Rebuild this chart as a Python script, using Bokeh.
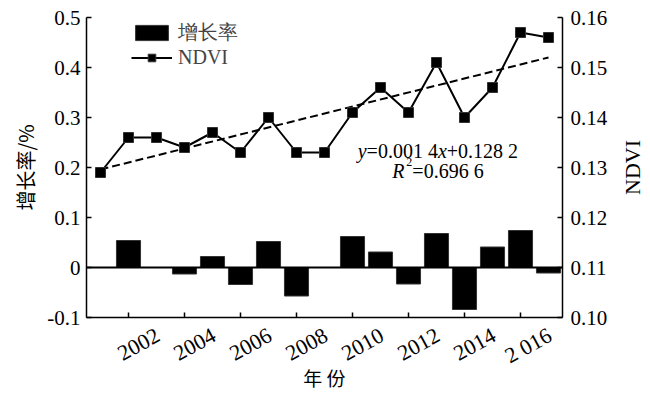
import math
from bokeh.plotting import figure
from bokeh.layouts import row
from bokeh.models import (Range1d, LinearAxis, FixedTicker, Span, Legend, LegendItem,
                          Label)
from bokeh.embed import file_html
from bokeh.resources import INLINE

# ---------------- data ----------------
years = [2001, 2002, 2003, 2004, 2005, 2006, 2007, 2008, 2009,
         2010, 2011, 2012, 2013, 2014, 2015, 2016, 2017]
ndvi = [0.129, 0.136, 0.136, 0.134, 0.137, 0.133, 0.140, 0.133, 0.133,
        0.141, 0.146, 0.141, 0.151, 0.140, 0.146, 0.157, 0.156]

growth_years = [2002, 2003, 2004, 2005, 2006, 2007, 2008, 2009,
                2010, 2011, 2012, 2013, 2014, 2015, 2016, 2017]
growth = [0.054, 0.0, -0.013, 0.022, -0.034, 0.052, -0.057, 0.0,
          0.062, 0.031, -0.033, 0.068, -0.084, 0.041, 0.074, -0.011]

trend_slope = 0.0014
trend_intercept = 0.1282
trend_index = [1, 17]
trend_years = [2001, 2017]

left_ticks = [-0.1, 0.0, 0.1, 0.2, 0.3, 0.4, 0.5]
left_labels = ["-0.1", "0", "0.1", "0.2", "0.3", "0.4", "0.5"]
right_ticks = [0.10, 0.11, 0.12, 0.13, 0.14, 0.15, 0.16]
right_labels = ["0.10", "0.11", "0.12", "0.13", "0.14", "0.15", "0.16"]
year_ticks = [2002, 2004, 2006, 2008, 2010, 2012, 2014, 2016]
year_labels = ["2002", "2004", "2006", "2008", "2010", "2012", "2014", "2 016"]

SERIF = "Liberation Serif"
CJK = "Noto Sans CJK SC"

X0, X1 = 2000.5, 2017.5
LABEL_SHIFT = 1.05   # horizontal shift (in years) of the slanted year labels

# ---------------- figure ----------------
p = figure(width=614, height=394,
           x_range=Range1d(X0, X1), y_range=Range1d(-0.1, 0.5),
           output_backend="svg", toolbar_location=None,
           min_border_left=86, min_border_right=52,
           min_border_top=17, min_border_bottom=76)
p.extra_y_ranges = {"ndvi": Range1d(0.10, 0.16)}
p.extra_x_ranges = {"lbl": Range1d(X0 - LABEL_SHIFT, X1 - LABEL_SHIFT)}
p.grid.visible = False
p.outline_line_color = None
p.background_fill_color = "white"
p.border_fill_color = "white"

def style_axis(ax, standoff):
    ax.axis_line_width = 1.5
    ax.axis_line_color = "black"
    ax.major_tick_line_width = 1.5
    ax.major_tick_in = 5
    ax.major_tick_out = 0
    ax.minor_tick_line_color = None
    ax.major_label_text_font = SERIF
    ax.major_label_text_font_size = "21px"
    ax.major_label_text_color = "black"
    ax.major_label_standoff = standoff
    ax.axis_label_text_font_style = "normal"
    ax.axis_label_text_color = "black"

# left axis
ly = p.yaxis[0]
ly.ticker = FixedTicker(ticks=left_ticks)
ly.major_label_overrides = {t: l for t, l in zip(left_ticks, left_labels)}
style_axis(ly, 6)
ly.axis_label = "增长率/%"
ly.axis_label_text_font = CJK
ly.axis_label_text_font_size = "20px"
ly.axis_label_standoff = 4

# bottom axis: line + inward ticks only
bx = p.xaxis[0]
bx.ticker = FixedTicker(ticks=year_ticks)
style_axis(bx, 0)
bx.major_label_overrides = {t: "" for t in year_ticks}
bx.major_label_text_color = None
bx.major_label_text_font_size = "1px"

# second bottom axis: slanted year labels + title
lx = LinearAxis(x_range_name="lbl", ticker=FixedTicker(ticks=year_ticks))
style_axis(lx, 16)
lx.major_label_text_font_size = "22px"
lx.axis_line_color = None
lx.major_tick_line_color = None
lx.major_label_overrides = {t: l for t, l in zip(year_ticks, year_labels)}
lx.major_label_orientation = 0.5
lx.axis_label = "年 份"
lx.axis_label_text_font = CJK
lx.axis_label_text_font_size = "19px"
lx.axis_label_standoff = -18
p.add_layout(lx, "below")

# right axis: line, ticks and tick labels
ry = LinearAxis(y_range_name="ndvi", ticker=FixedTicker(ticks=right_ticks))
ry.major_label_overrides = {t: l for t, l in zip(right_ticks, right_labels)}
style_axis(ry, 8)
p.add_layout(ry, "right")

# ---------------- glyphs ----------------
bars = p.vbar(x=growth_years, top=growth, bottom=0, width=0.86,
              fill_color="black", line_color="#333333", line_width=1)

p.add_layout(Span(location=0, dimension="width", line_color="black", line_width=2))

trend_vals = [trend_intercept + trend_slope * i for i in trend_index]
p.line(x=trend_years, y=trend_vals, y_range_name="ndvi",
       line_color="black", line_width=2, line_dash="8 4")

ln = p.line(x=years, y=ndvi, y_range_name="ndvi", line_color="black", line_width=2)
pts = p.scatter(x=years, y=ndvi, y_range_name="ndvi", marker="square", size=10,
                fill_color="black", line_color="#333333", line_width=1)

# ---------------- legend ----------------
legend = Legend(items=[LegendItem(label="增长率", renderers=[bars]),
                       LegendItem(label="NDVI", renderers=[ln, pts])],
                location=(45, 248), padding=0, margin=0, spacing=-5,
                glyph_width=41, glyph_height=19, label_standoff=6, label_height=18,
                label_text_font=SERIF, label_text_font_size="20px",
                background_fill_alpha=0, border_line_color=None)
p.add_layout(legend)

# ---------------- equation annotation ----------------
fs = 20
cx = 2013.05
y1, y2 = 0.234, 0.194
line1 = [("y", "italic", 0.444), ("=0.001 4", "normal", 3.564),
         ("x", "italic", 0.444), ("+0.128 2", "normal", 3.564)]
w1 = sum(w for _, _, w in line1) * fs
off = -w1 / 2
for txt, style, w in line1:
    p.add_layout(Label(x=cx, y=y1, x_offset=off, text=txt, text_font=SERIF,
                       text_font_style=style, text_font_size=f"{fs}px",
                       text_align="left", text_baseline="alphabetic", text_color="black"))
    off += w * fs

w2 = (0.611 + 3.564) * fs + 8
off = -w2 / 2
p.add_layout(Label(x=cx, y=y2, x_offset=off, text="R", text_font=SERIF,
                   text_font_style="italic", text_font_size=f"{fs}px",
                   text_align="left", text_baseline="alphabetic", text_color="black"))
off += 0.611 * fs + 2
p.add_layout(Label(x=cx, y=y2, x_offset=off, y_offset=9, text="2", text_font=SERIF,
                   text_font_size="12px", text_align="left",
                   text_baseline="alphabetic", text_color="black"))
off += 6
p.add_layout(Label(x=cx, y=y2, x_offset=off, text="=0.696 6", text_font=SERIF,
                   text_font_size=f"{fs}px", text_align="left",
                   text_baseline="alphabetic", text_color="black"))

# ---------------- right-hand title (reads bottom-to-top) ----------------
q = figure(width=34, height=394, x_range=Range1d(0, 1), y_range=Range1d(0, 1),
           output_backend="svg", toolbar_location=None,
           min_border_left=30, min_border_right=0,
           min_border_top=17, min_border_bottom=76)
q.xaxis.visible = False
q.grid.visible = False
q.outline_line_color = None
q.background_fill_color = "white"
q.border_fill_color = "white"
qa = q.yaxis[0]
qa.ticker = FixedTicker(ticks=[])
qa.axis_line_color = None
qa.major_tick_line_color = None
qa.minor_tick_line_color = None
qa.major_label_standoff = 0
qa.axis_label = "NDVI"
qa.axis_label_text_font = SERIF
qa.axis_label_text_font_size = "22px"
qa.axis_label_text_font_style = "normal"
qa.axis_label_text_color = "black"
qa.axis_label_standoff = 0

layout = row(p, q, spacing=0)
open("out.html", "w").write(file_html(layout, INLINE))
